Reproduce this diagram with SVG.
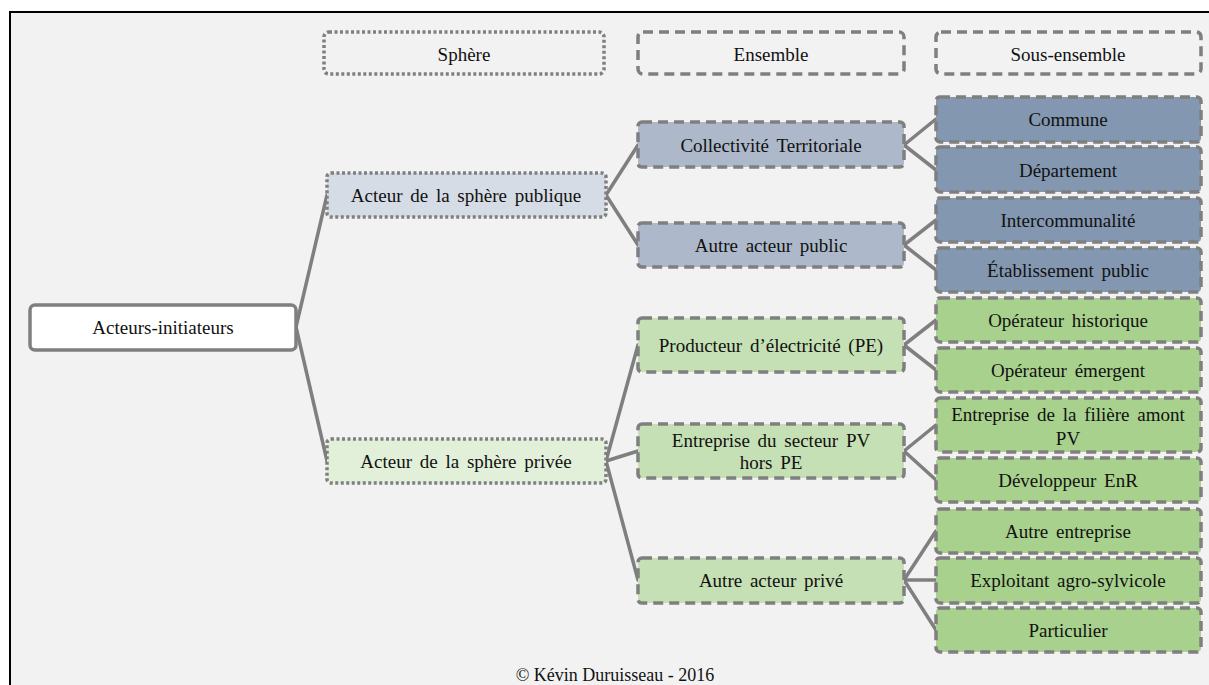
<svg xmlns="http://www.w3.org/2000/svg" width="1209" height="685" viewBox="0 0 1209 685">
<style>
text{font-family:Liberation Serif, Times New Roman, serif;font-size:19px;fill:#111;text-anchor:middle;dominant-baseline:central;word-spacing:3px}
.dot{stroke:#7f7f7f;stroke-width:3.5;stroke-dasharray:3,2.5}
.dash{stroke:#7f7f7f;stroke-width:3.5;stroke-dasharray:10,6}
.solid{stroke:#7f7f7f;stroke-width:3.5}
.hdr{fill:#f2f2f2}
.root{fill:#ffffff}
.pub1{fill:#d6dce5}
.pub2{fill:#adb9ca}
.pub3{fill:#8497b0}
.pri1{fill:#e2f0d9}
.pri2{fill:#c5e0b4}
.pri3{fill:#a9d18e}
#connectors line{stroke:#7f7f7f;stroke-width:3.5;stroke-linecap:round}
</style>
<rect x="0" y="0" width="1209" height="685" fill="#ffffff"/>
<rect x="10" y="12" width="1215" height="690" fill="#f2f2f2" stroke="#000" stroke-width="2"/>
<g id="connectors">
<line x1="296" y1="327" x2="327" y2="195"/>
<line x1="296" y1="327" x2="327" y2="461"/>
<line x1="606" y1="195" x2="638" y2="145"/>
<line x1="606" y1="195" x2="638" y2="245"/>
<line x1="606" y1="461" x2="638" y2="345"/>
<line x1="606" y1="461" x2="638" y2="451"/>
<line x1="606" y1="461" x2="638" y2="580"/>
<line x1="904" y1="145" x2="936" y2="119"/>
<line x1="904" y1="145" x2="936" y2="170"/>
<line x1="904" y1="245" x2="936" y2="220"/>
<line x1="904" y1="245" x2="936" y2="270"/>
<line x1="904" y1="345" x2="936" y2="320"/>
<line x1="904" y1="345" x2="936" y2="370"/>
<line x1="904" y1="451" x2="936" y2="425"/>
<line x1="904" y1="451" x2="936" y2="480"/>
<line x1="904" y1="580" x2="936" y2="531"/>
<line x1="904" y1="580" x2="936" y2="580"/>
<line x1="904" y1="580" x2="936" y2="630"/>
</g>
<g id="hdr-sphere"><rect class="hdr dot" x="324" y="32" width="280" height="42" rx="5"/><text x="464" y="54">Sphère</text></g>
<g id="hdr-ensemble"><rect class="hdr dash" x="638" y="32" width="266" height="42" rx="5"/><text x="771" y="54">Ensemble</text></g>
<g id="hdr-sous"><rect class="hdr dash" x="936" y="32" width="265" height="42" rx="5"/><text x="1068" y="54">Sous-ensemble</text></g>
<g id="root"><rect class="root solid" x="30" y="305" width="266" height="45" rx="5"/><text x="163" y="327">Acteurs-initiateurs</text></g>
<g id="sphere-publique"><rect class="pub1 dot" x="327" y="173" width="279" height="44" rx="4"/><text x="466" y="195">Acteur de la sphère publique</text></g>
<g id="sphere-privee"><rect class="pri1 dot" x="327" y="439" width="279" height="44" rx="4"/><text x="466" y="461">Acteur de la sphère privée</text></g>
<g id="collectivite"><rect class="pub2 dash" x="638" y="122" width="266" height="45" rx="4"/><text x="771" y="145">Collectivité Territoriale</text></g>
<g id="autre-public"><rect class="pub2 dash" x="638" y="223" width="266" height="44" rx="4"/><text x="771" y="245">Autre acteur public</text></g>
<g id="producteur"><rect class="pri2 dash" x="638" y="318" width="266" height="54" rx="4"/><text x="771" y="345">Producteur d’électricité (PE)</text></g>
<g id="entreprise-pv"><rect class="pri2 dash" x="638" y="424" width="266" height="54" rx="4"/><text x="771" y="440">Entreprise du secteur PV</text><text x="771" y="462">hors PE</text></g>
<g id="autre-prive"><rect class="pri2 dash" x="638" y="558" width="266" height="45" rx="4"/><text x="771" y="580">Autre acteur privé</text></g>
<g id="commune"><rect class="pub3 dash" x="936" y="97" width="265" height="45" rx="4"/><text x="1068" y="119">Commune</text></g>
<g id="departement"><rect class="pub3 dash" x="936" y="147" width="265" height="45" rx="4"/><text x="1068" y="170">Département</text></g>
<g id="intercommunalite"><rect class="pub3 dash" x="936" y="198" width="265" height="44" rx="4"/><text x="1068" y="220">Intercommunalité</text></g>
<g id="etablissement"><rect class="pub3 dash" x="936" y="248" width="265" height="44" rx="4"/><text x="1068" y="270">Établissement public</text></g>
<g id="op-historique"><rect class="pri3 dash" x="936" y="298" width="265" height="44" rx="4"/><text x="1068" y="320">Opérateur historique</text></g>
<g id="op-emergent"><rect class="pri3 dash" x="936" y="348" width="265" height="44" rx="4"/><text x="1068" y="370">Opérateur émergent</text></g>
<g id="filiere-amont"><rect class="pri3 dash" x="936" y="398" width="265" height="54" rx="4"/><text x="1068" y="414">Entreprise de la filière amont</text><text x="1068" y="438">PV</text></g>
<g id="developpeur"><rect class="pri3 dash" x="936" y="458" width="265" height="44" rx="4"/><text x="1068" y="480">Développeur EnR</text></g>
<g id="autre-entreprise"><rect class="pri3 dash" x="936" y="509" width="265" height="44" rx="4"/><text x="1068" y="531">Autre entreprise</text></g>
<g id="exploitant"><rect class="pri3 dash" x="936" y="558" width="265" height="45" rx="4"/><text x="1068" y="580">Exploitant agro-sylvicole</text></g>
<g id="particulier"><rect class="pri3 dash" x="936" y="608" width="265" height="44" rx="4"/><text x="1068" y="630">Particulier</text></g>
<text x="615" y="675" style="font-size:18px;word-spacing:0">© Kévin Duruisseau - 2016</text>
</svg>
